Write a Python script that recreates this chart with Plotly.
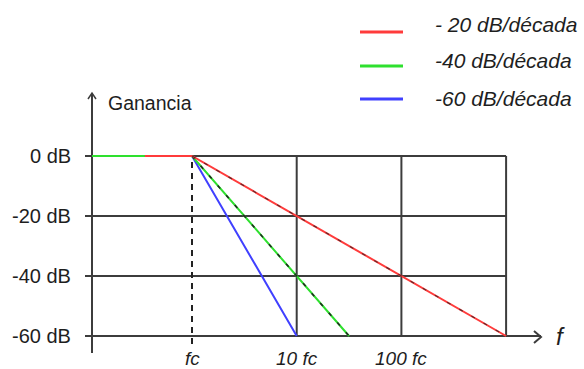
import plotly.graph_objects as go

# ---- data (x in decades relative to fc: 0 = fc, 1 = 10 fc, ...) ----
red_x = [-0.45, 0, 3]
red_y = [0, 0, -60]
green_x = [-0.955, 0, 1.5]
green_y = [0, 0, -60]
blue_x = [-0.955, 0, 1]
blue_y = [0, 0, -60]

legend_labels = ["- 20 dB/década", "-40 dB/década", "-60 dB/década"]
y_ticks = [0, -20, -40, -60]
y_tick_labels = ["0 dB", "-20 dB", "-40 dB", "-60 dB"]
x_ticks = [0, 1, 2]
x_tick_labels = ["fc", "10 fc", "100 fc"]
x_grid = [1, 2, 3]

RED = "#ff3b3b"
GREEN = "#2ee02e"
BLUE = "#4040ff"
GRID = "#3c3c3c"
TXT = "#1e1e1e"
FONT = "Liberation Sans"

W, H = 584, 369
PX0, PXS = 192.0, 104.7   # pixel x of fc, pixels per decade
PY0, PYS = 156.0, 3.0     # pixel y of 0 dB, pixels per dB
xr = [(0 - PX0) / PXS, (W - PX0) / PXS]
yr = [(PY0 - H) / PYS, (PY0 - 0) / PYS]

def px2x(p):
    return (p - PX0) / PXS

def py2y(p):
    return (PY0 - p) / PYS

fig = go.Figure()

shapes = []
line_grid = dict(color=GRID, width=2)
for yv in y_ticks[:-1]:
    shapes.append(dict(type="line", xref="x", yref="y", x0=px2x(85), x1=3,
                       y0=yv, y1=yv, line=line_grid, layer="below"))
shapes.append(dict(type="line", xref="x", yref="y", x0=px2x(85), x1=px2x(541),
                   y0=-60, y1=-60, line=line_grid, layer="below"))
shapes.append(dict(type="path", xref="x", yref="y",
                   path=f"M {px2x(534)},{py2y(331)} L {px2x(541)},{py2y(337)} L {px2x(534)},{py2y(343)}",
                   line=dict(color=GRID, width=2), layer="below"))
for xv in x_grid:
    shapes.append(dict(type="line", xref="x", yref="y", x0=xv, x1=xv,
                       y0=0, y1=-60, line=line_grid, layer="below"))
shapes.append(dict(type="line", xref="x", yref="y", x0=px2x(92), x1=px2x(92),
                   y0=py2y(353), y1=py2y(93), line=line_grid, layer="below"))
shapes.append(dict(type="path", xref="x", yref="y",
                   path=f"M {px2x(88)},{py2y(99)} L {px2x(92)},{py2y(93)} L {px2x(96)},{py2y(99)}",
                   line=dict(color=GRID, width=1.5), layer="below"))
shapes.append(dict(type="line", xref="x", yref="y", x0=0, x1=0, y0=-2, y1=py2y(345),
                   line=dict(color="#222222", width=2, dash="6px,5px"), layer="below"))

leg_y = [32, 66, 99]
leg_col = [RED, GREEN, BLUE]
for yy, c in zip(leg_y, leg_col):
    shapes.append(dict(type="line", xref="x", yref="y", x0=px2x(360), x1=px2x(403),
                       y0=py2y(yy), y1=py2y(yy), line=dict(color=c, width=3)))

fig.add_trace(go.Scatter(x=blue_x, y=blue_y, mode="lines",
                         line=dict(color=BLUE, width=2), showlegend=False, hoverinfo="skip"))
fig.add_trace(go.Scatter(x=green_x, y=green_y, mode="lines",
                         line=dict(color=GREEN, width=2), showlegend=False, hoverinfo="skip"))
fig.add_trace(go.Scatter(x=green_x[1:], y=green_y[1:], mode="lines",
                         line=dict(color="#222222", width=1.5, dash="4px,9px"),
                         showlegend=False, hoverinfo="skip"))
fig.add_trace(go.Scatter(x=red_x, y=red_y, mode="lines",
                         line=dict(color=RED, width=2), showlegend=False, hoverinfo="skip"))
fig.add_trace(go.Scatter(x=red_x[1:], y=red_y[1:], mode="lines",
                         line=dict(color="#222222", width=1.2, dash="4px,10px"),
                         opacity=0.7, showlegend=False, hoverinfo="skip"))

annotations = []
for yv, lab in zip(y_ticks, y_tick_labels):
    annotations.append(dict(x=px2x(73), y=yv, xref="x", yref="y", text=lab,
                            showarrow=False, xanchor="right", yanchor="middle",
                            font=dict(family=FONT, size=20, color=TXT)))
for xv, lab in zip(x_ticks, x_tick_labels):
    annotations.append(dict(x=xv, y=py2y(358), xref="x", yref="y", text=f"<i>{lab}</i>",
                            showarrow=False, xanchor="center", yanchor="middle",
                            font=dict(family=FONT, size=19, color=TXT)))
annotations.append(dict(x=px2x(106), y=py2y(103), xref="x", yref="y", text="Ganancia",
                        showarrow=False, xanchor="left", yanchor="middle",
                        font=dict(family=FONT, size=19.5, color=TXT)))
annotations.append(dict(x=px2x(554), y=py2y(336), xref="x", yref="y", text="<i>f</i>",
                        showarrow=False, xanchor="left", yanchor="middle",
                        font=dict(family=FONT, size=24, color=TXT)))
leg_text_y = [24, 60, 98]
for yy, lab in zip(leg_text_y, legend_labels):
    annotations.append(dict(x=px2x(433), y=py2y(yy), xref="x", yref="y", text=f"<i>{lab}</i>",
                            showarrow=False, xanchor="left", yanchor="middle",
                            font=dict(family=FONT, size=21, color=TXT)))

fig.update_layout(
    width=W, height=H,
    margin=dict(l=0, r=0, t=0, b=0),
    paper_bgcolor="white", plot_bgcolor="white",
    xaxis=dict(range=xr, visible=False, fixedrange=True),
    yaxis=dict(range=yr, visible=False, fixedrange=True),
    shapes=shapes, annotations=annotations, showlegend=False,
)
fig.write_html("out.html")
